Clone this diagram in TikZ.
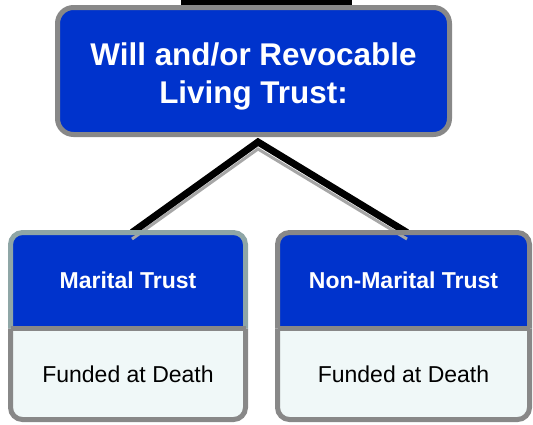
\documentclass[tikz,border=0pt]{standalone}
\usepackage{fontspec}
\setmainfont{Liberation Sans}
\usepackage{tikz}
\usetikzlibrary{positioning,backgrounds}
\definecolor{trustblue}{RGB}{0,51,204}
\definecolor{boxgray}{RGB}{136,136,136}
\definecolor{tealgray}{RGB}{143,166,166}
\definecolor{fundfill}{RGB}{240,248,248}
% title lines sit a little low in their box
\newcommand{\titleline}[1]{\raisebox{-5pt}[\height][\depth]{#1}}
\tikzset{%
	trust/.style     = {draw=boxgray, line width=5pt, fill=trustblue, rounded corners=16pt, text=white, align=center, font=\bfseries\fontsize{31.4}{38}\selectfont, minimum width=392pt, minimum height=127pt, inner sep=0pt},
	header/.style    = {text=white, font=\bfseries\fontsize{23}{28}\selectfont, minimum height=96pt, inner sep=0pt, outer sep=0pt},
	funding/.style   = {text=black, font=\fontsize{23}{28}\selectfont, minimum height=91pt, inner sep=0pt, outer sep=0pt},
	outline/.style   = {line width=5pt, rounded corners=12pt},
	link/.style      = {line width=7pt, black},
	linkshade/.style = {line width=3pt, gray!70},
}

\begin{document}
\begin{tikzpicture}[x=1pt,y=-1pt]
	\useasboundingbox (0,0) rectangle (533,424);
	% line coming in from above
	\fill[black] (181,0) rectangle (352,5);
	\node[trust] (top) at (253.5,71) {\titleline{Will and/or Revocable}\\\titleline{Living Trust:}};
	
	\foreach \name/\x/\w/\edge/\txt in {marital/128/235/tealgray/Marital Trust, nonmarital/403.5/252/boxgray/Non-Marital Trust} {
		\node[header, minimum width=\w pt] (\name) at (\x,280.5) {\txt};
		\node[funding, minimum width=\w pt, below=0pt of \name] (\name fund) {Funded at Death};
		\begin{pgfonlayer}{background}
			\begin{scope}
				\clip[rounded corners=12pt] (\name.north west) rectangle (\name fund.south east);
				\fill[trustblue] (\name.north west) rectangle (\name.south east);
				\fill[fundfill] (\name fund.north west) rectangle (\name fund.south east);
			\end{scope}
		\end{pgfonlayer}
		\draw[outline, \edge] (\name.south west) |- (\name.north) -| (\name.south east);
		\draw[outline, boxgray] (\name.south west) |- (\name fund.south) -| (\name.south east);
		\draw[line width=5pt, boxgray] (\name.south west) -- (\name.south east);
	}
	
	\begin{pgfonlayer}{background}
		\draw[linkshade] ([xshift=4pt,yshift=-6.5pt]marital.north) -- ([xshift=4.5pt,yshift=-12pt]top.south) -- ([xshift=3.5pt,yshift=-6.5pt]nonmarital.north);
		\draw[link] ([xshift=4pt]marital.north) -- ([xshift=4.5pt,yshift=-5pt]top.south) -- ([xshift=3.5pt]nonmarital.north);
	\end{pgfonlayer}
\end{tikzpicture}
\end{document}
